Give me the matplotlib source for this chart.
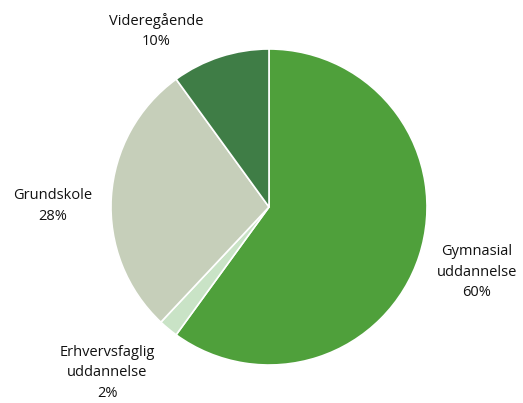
import matplotlib.pyplot as plt

labels = ["Gymnasial\nuddannelse", "Erhvervsfaglig\nuddannelse", "Grundskole", "Videregående"]
values = [60, 2, 28, 10]
colors = ["#4fa03b", "#c9e3c6", "#c6cfba", "#3f7d46"]

# label placement in pixel coords (x, y from bottom)
label_pos = [(477, 131), (107, 30), (53, 197), (156, 372)]

plt.rcParams['font.family'] = ['Open Sans', 'DejaVu Sans']

fig = plt.figure(figsize=(5.23, 4.03), dpi=100)
ax = fig.add_axes([0, 0, 1, 1])

wedges, _ = ax.pie(values, colors=colors, startangle=90, counterclock=False,
                   center=(269, 196), radius=158,
                   wedgeprops=dict(edgecolor="white", linewidth=1.2))

for lab, val, (x, y) in zip(labels, values, label_pos):
    ax.text(x, y, f"{lab}\n{val}%", ha="center", va="center", fontsize=10.5,
            color="#111111", linespacing=1.5)

ax.set_xlim(0, 523)
ax.set_ylim(0, 403)
ax.set_aspect("equal")
ax.axis("off")

fig.savefig("out.png", dpi=100)
